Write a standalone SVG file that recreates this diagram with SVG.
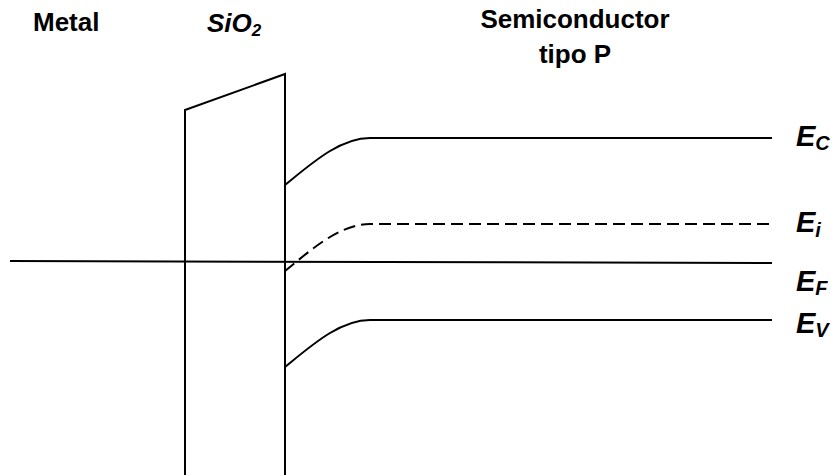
<svg xmlns="http://www.w3.org/2000/svg" width="837" height="475" viewBox="0 0 837 475">
<style>
.ln{fill:none;stroke:#000;stroke-width:2;stroke-linejoin:miter}
.dash{stroke-dasharray:12 6}
.t{font-family:"Liberation Sans",Arial,sans-serif;font-weight:bold;fill:#000}
.h{font-size:26px}
.e{font-size:29px;font-style:italic}
.s{font-size:20px}
</style>
<rect width="837" height="475" fill="#fff"/>
<g id="titles">
<text class="t h" x="33" y="31">Metal</text>
<text class="t h" x="207" y="32" font-style="italic">SiO<tspan font-size="17" dy="4">2</tspan></text>
<text class="t h" x="575" y="28" text-anchor="middle">Semiconductor</text>
<text class="t h" x="575" y="63" text-anchor="middle">tipo P</text>
</g>
<g id="oxide">
<path class="ln" d="M185,475 V110 L285,74 V475"/>
</g>
<g id="bands">
<path id="EC" class="ln" d="M285,185 C312,163 340,138 370,138 H772"/>
<path id="Ei" class="ln dash" d="M285,271 C312,249 340,224 370,224 H772"/>
<path id="EF" class="ln" d="M10,261 L772,263"/>
<path id="EV" class="ln" d="M285,367 C312,345 340,320 370,320 H772"/>
</g>
<g id="labels">
<text class="t e" x="796" y="146">E<tspan class="s" dy="4">C</tspan></text>
<text class="t e" x="796" y="232">E<tspan class="s" dy="5">i</tspan></text>
<text class="t e" x="796" y="291">E<tspan class="s" dy="4">F</tspan></text>
<text class="t e" x="796" y="333">E<tspan class="s" dy="4">V</tspan></text>
</g>
</svg>
